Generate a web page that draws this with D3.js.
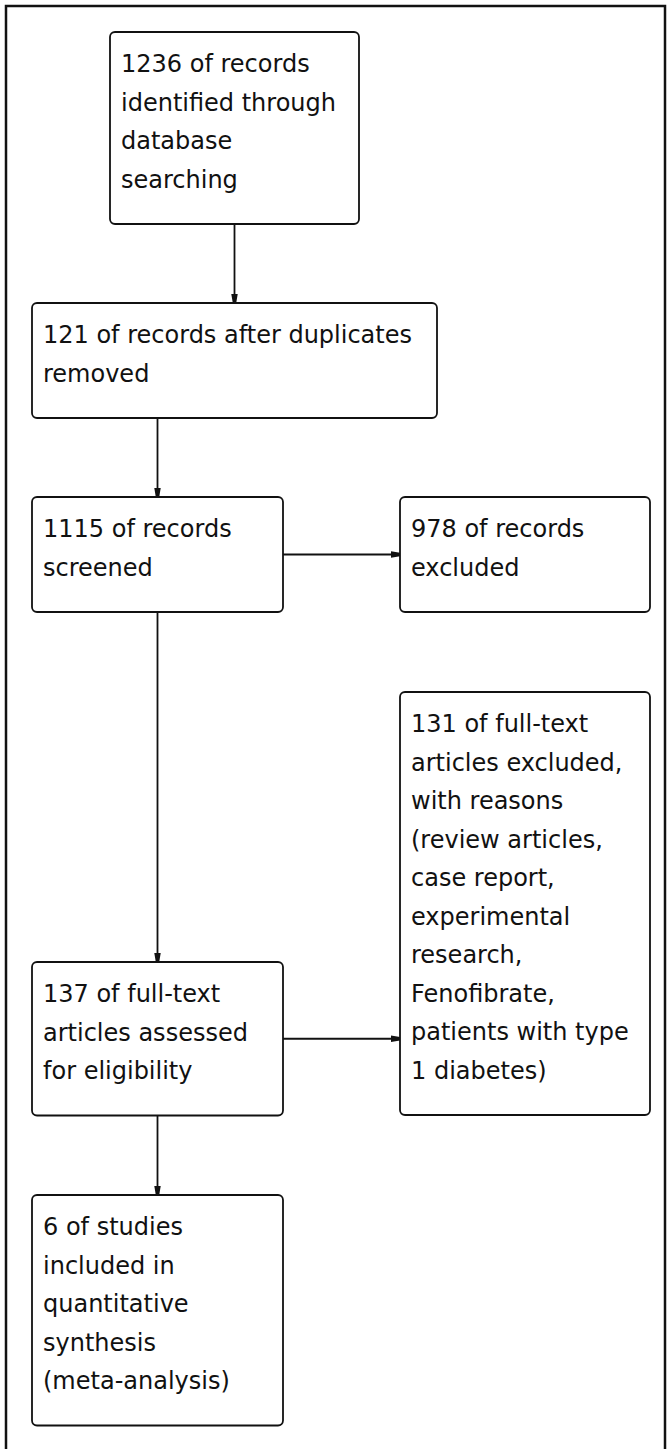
<!DOCTYPE html>
<html>
<head>
<meta charset="utf-8">
<script src="https://cdn.jsdelivr.net/npm/d3@7"></script>
<style>
  html, body { margin: 0; padding: 0; background: #fff; }
  svg { display: block; }
  .box { fill: #fff; stroke: #111; stroke-width: 1.8; }
  .link { stroke: #111; stroke-width: 1.8; fill: none; }
  .label { font-family: "DejaVu Sans", Verdana, sans-serif; font-size: 24px; fill: #111; }
</style>
</head>
<body>
<div id="chart"></div>
<script>
var WIDTH = 670;
var HEIGHT = 1449;
var LINE = 38.5;

// box texts, one entry per line
var identifiedLines = ['1236 of records', 'identified through', 'database', 'searching'];
var dedupLines = ['121 of records after duplicates', 'removed'];
var screenedLines = ['1115 of records', 'screened'];
var excludedLines = ['978 of records', 'excluded'];
var fullTextExcludedLines = ['131 of full-text', 'articles excluded,', 'with reasons', '(review articles,',
  'case report,', 'experimental', 'research,', 'Fenofibrate,', 'patients with type', '1 diabetes)'];
var assessedLines = ['137 of full-text', 'articles assessed', 'for eligibility'];
var includedLines = ['6 of studies', 'included in', 'quantitative', 'synthesis', '(meta-analysis)'];

var nodeIds = ['identified', 'dedup', 'screened', 'excluded', 'ftExcluded', 'assessed', 'included'];
var nodeLines = [identifiedLines, dedupLines, screenedLines, excludedLines, fullTextExcludedLines, assessedLines, includedLines];
var nodeCols = ['mid', 'wide', 'left', 'right', 'right', 'left', 'left'];
var nodeRows = ['r0', 'r1', 'r2', 'r2', 'r3', 'r4', 'r5'];

var linkSources = ['identified', 'dedup', 'screened', 'screened', 'assessed', 'assessed'];
var linkTargets = ['dedup', 'screened', 'excluded', 'assessed', 'ftExcluded', 'included'];

// layout grid
var colX = d3.scaleOrdinal().domain(['mid', 'wide', 'left', 'right']).range([110, 32, 32, 400]);
var colW = d3.scaleOrdinal().domain(['mid', 'wide', 'left', 'right']).range([249, 405, 251, 250]);
var rowY = d3.scaleOrdinal().domain(['r0', 'r1', 'r2', 'r3', 'r4', 'r5']).range([32, 303, 497, 692, 962, 1195]);

var nodes = nodeIds.map(function (id, i) {
  var n = nodeLines[i].length;
  return {
    id: id,
    lines: nodeLines[i],
    x: colX(nodeCols[i]),
    y: rowY(nodeRows[i]),
    w: colW(nodeCols[i]),
    h: 38 + LINE * n
  };
});
var byId = {};
nodes.forEach(function (d) { byId[d.id] = d; });

var links = linkSources.map(function (s, i) {
  var a = byId[s], b = byId[linkTargets[i]];
  if (b.x >= a.x + a.w) {
    // sideways link
    var y = a.y + a.h / 2;
    return [[a.x + a.w, y], [b.x, y]];
  }
  var x = b.x + Math.min(a.w, b.w) / 2;
  if (a.w < b.w) x = a.x + a.w / 2;
  return [[x, a.y + a.h], [x, b.y]];
});

var $svg = d3.select('#chart').append('svg')
  .attr('width', WIDTH)
  .attr('height', HEIGHT);

$svg.append('defs').append('marker')
  .attr('id', 'head')
  .attr('viewBox', '0 0 9 8')
  .attr('refX', 9)
  .attr('refY', 4)
  .attr('markerWidth', 9)
  .attr('markerHeight', 8)
  .attr('markerUnits', 'userSpaceOnUse')
  .attr('orient', 'auto')
  .append('path')
    .attr('d', 'M0,0.8 L9,2.3 L9,5.7 L0,7.2 Z')
    .attr('fill', '#111');

// outer frame
$svg.append('rect')
  .attr('x', 6)
  .attr('y', 6)
  .attr('width', 659)
  .attr('height', HEIGHT + 20)
  .attr('fill', 'none')
  .attr('stroke', '#111')
  .attr('stroke-width', 2.5);

$svg.selectAll('line.link')
  .data(links)
  .enter()
    .append('line')
    .attr('class', 'link')
    .attr('x1', function (d) { return d[0][0]; })
    .attr('y1', function (d) { return d[0][1]; })
    .attr('x2', function (d) { return d[1][0]; })
    .attr('y2', function (d) { return d[1][1]; })
    .attr('marker-end', 'url(#head)');

var $node = $svg.selectAll('g.node')
  .data(nodes)
  .enter()
    .append('g')
    .attr('class', 'node')
    .attr('transform', function (d) { return 'translate(' + d.x + ',' + d.y + ')'; });

$node.append('rect')
  .attr('class', 'box')
  .attr('width', function (d) { return d.w; })
  .attr('height', function (d) { return d.h; })
  .attr('rx', 5)
  .attr('ry', 5);

$node.selectAll('text')
  .data(function (d) { return d.lines; })
  .enter()
    .append('text')
    .attr('class', 'label')
    .attr('x', 11)
    .attr('y', function (d, i) { return 40 + i * LINE; })
    .text(function (d) { return d; });
</script>
</body>
</html>
